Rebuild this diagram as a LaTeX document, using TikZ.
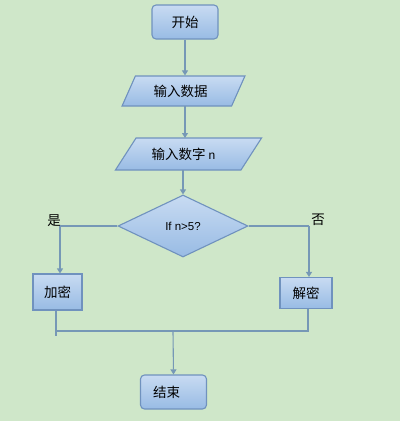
\documentclass[tikz,border=0pt]{standalone}
\usepackage{fontspec}
\setmainfont{Liberation Sans}
\newfontfamily\cjk{Noto Sans CJK SC}
\usetikzlibrary{shapes.geometric,arrows.meta}
\definecolor{bg}{RGB}{207,231,201}
\definecolor{boxtop}{RGB}{200,219,242}
\definecolor{boxbot}{RGB}{152,187,228}
\definecolor{boxline}{RGB}{112,146,190}
\definecolor{conn}{RGB}{118,152,182}
\begin{document}
\begin{tikzpicture}[x=1pt,y=-1pt,
  shaded/.style={draw=boxline,line width=1.1pt,top color=boxtop,bottom color=boxbot,inner sep=0pt,font=\cjk\fontsize{13.5}{15}\selectfont},
  roundbox/.style={shaded,rectangle,rounded corners=4pt},
  plainbox/.style={shaded,rectangle},
  iobox/.style={shaded,trapezium,trapezium stretches=true},
  decision/.style={shaded,diamond,font=\fontsize{11.5}{13}\selectfont},
  conn/.style={draw=conn,line width=1.1pt},
  arr/.style={conn,-{Triangle[length=5pt,width=6pt]}},
  lbl/.style={font=\cjk\fontsize{13.5}{15}\selectfont,inner sep=0pt}]
\useasboundingbox[fill=bg] (0,0) rectangle (400,421);
\node[roundbox,minimum width=66pt,minimum height=34pt] (start) at (185,22) {开始};
\node[iobox,trapezium left angle=62,trapezium right angle=118,minimum width=123pt,minimum height=30pt] (in1) at (183.5,91) {\hspace*{-6pt}输入数据};
\node[iobox,trapezium left angle=50,trapezium right angle=130,minimum width=147pt,minimum height=32pt] (in2) at (188.5,154) {\hspace*{-10pt}输入数字 {\fontspec{Liberation Sans}\fontsize{12}{13}\selectfont n}};
\node[decision,minimum width=130pt,minimum height=62pt] (dec) at (183,226) {If n>5?};
\node[plainbox,minimum width=49pt,minimum height=36pt] (jia) at (57.5,292) {加密};
\node[plainbox,minimum width=52pt,minimum height=31pt] (jie) at (306,293) {解密};
\node[roundbox,minimum width=66pt,minimum height=34pt] (end) at (173.5,392) {\hspace*{-14pt}结束};
\node[lbl] (yes) at (54,221) {是};
\node[lbl] (no) at (318,220) {否};
\coordinate (lt) at (60,226);
\coordinate (rt) at (309,226);
\coordinate (jl) at (56,331);
\coordinate (jr) at (308,331);
\coordinate (jm) at (173,331);
\draw[arr] (start.south) -- (start.south |- in1.north);
\draw[arr] (185,106) -- (185,138);
\draw[arr] (183,170) -- (dec.north);
\draw[conn] (dec.west) -- (lt);
\draw[arr] (lt) -- (lt |- jia.north);
\draw[conn] (dec.east) -- (rt);
\draw[arr] (rt) -- (rt |- jie.north);
\draw[conn,line width=1.5pt] (jl |- jia.south) -- ++(0,25);
\draw[conn,line width=1.5pt] (jr |- jie.south) -- (jr) -- (jl);
\draw[arr] (jm) -- (end.north);
\end{tikzpicture}
\end{document}
